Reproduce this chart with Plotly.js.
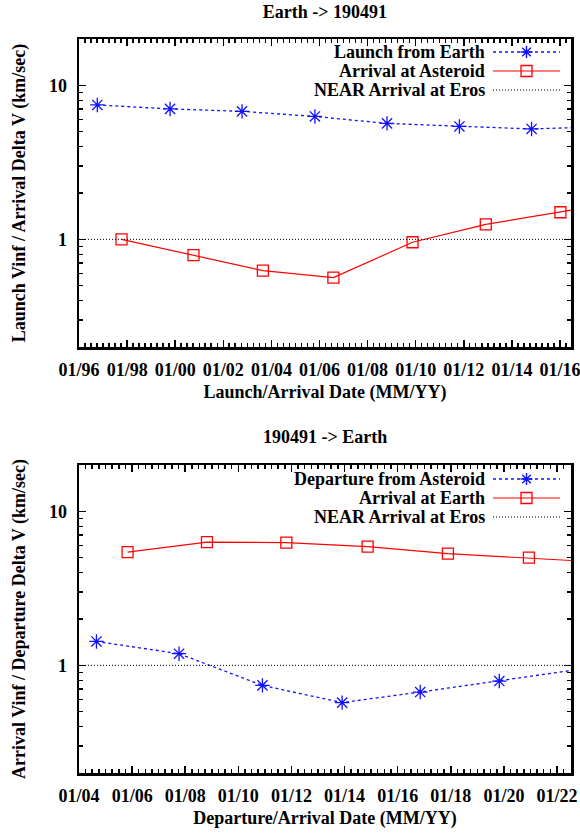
<!DOCTYPE html>
<html><head><meta charset="utf-8">
<script src="https://cdn.plot.ly/plotly-3.0.1.min.js"></script>
<style>html,body{margin:0;padding:0;background:#fff}</style>
</head><body>
<div id="chart" style="width:580px;height:834px"></div>
<script>
// ---- Top panel: Earth -> 190491 ----
const launchDates = ['1996-10-05','1999-10-15','2002-10-12','2005-10-23','2008-10-23','2011-10-27','2014-10-27','2017-10-30'];
const launchVinf = [7.46, 7.03, 6.78, 6.28, 5.66, 5.41, 5.21, 5.40];
const arrivalAstDates = ['1997-10-08','2000-10-05','2003-08-25','2006-07-31','2009-11-14','2012-12-01','2016-01-08','2019-01-01'];
const arrivalAstDv = [1.00, 0.79, 0.626, 0.564, 0.958, 1.25, 1.50, 1.80];

// ---- Bottom panel: 190491 -> Earth ----
const departAstDates = ['2004-08-28','2007-10-08','2010-11-28','2013-11-28','2016-11-06','2019-10-30','2023-03-01'];
const departAstDv = [1.43, 1.19, 0.741, 0.573, 0.671, 0.791, 0.96];
const arrivalEarthDates = ['2005-10-30','2008-10-26','2011-10-23','2014-11-14','2017-11-22','2020-12-10','2023-12-15'];
const arrivalEarthVinf = [5.44, 6.32, 6.27, 5.90, 5.31, 5.00, 4.65];

// NEAR arrival at Eros reference level
const nearLevel = [1, 1];
const topDateRange = ['1996-01-01', '2016-06-17'];
const bottomDateRange = ['2004-01-01', '2022-07-12'];
const yRangeVals = [0.2, 20];

const topNames = ['Launch from Earth', 'Arrival at Asteroid', 'NEAR Arrival at Eros'];
const bottomNames = ['Departure from Asteroid', 'Arrival at Earth', 'NEAR Arrival at Eros'];

const F = {family: '"Liberation Serif", "Times New Roman", serif', size: 18, color: '#000', weight: 'bold'};
const BLUE = '#1010ff', RED = '#ff0000';
const blueLine = {color: BLUE, width: 1.3, dash: 'dot'};
const redLine = {color: RED, width: 1.2, dash: 'solid'};
const nearLine = {color: '#000', width: 1, dash: '1px,2px'};
const starMarker = {symbol: 'asterisk-open', size: 12, color: BLUE, line: {color: BLUE, width: 1.3}};
const squareMarker = {symbol: 'square-open', size: 11, color: RED, line: {color: RED, width: 1.3}};

const traces = [
  {x: launchDates, y: launchVinf, xaxis: 'x', yaxis: 'y', name: topNames[0], mode: 'lines+markers', line: blueLine, marker: starMarker},
  {x: arrivalAstDates, y: arrivalAstDv, xaxis: 'x', yaxis: 'y', name: topNames[1], mode: 'lines+markers', line: redLine, marker: squareMarker},
  {x: topDateRange, y: nearLevel, xaxis: 'x', yaxis: 'y', name: topNames[2], mode: 'lines', line: nearLine},
  {x: departAstDates, y: departAstDv, xaxis: 'x2', yaxis: 'y2', name: bottomNames[0], mode: 'lines+markers', line: blueLine, marker: starMarker},
  {x: arrivalEarthDates, y: arrivalEarthVinf, xaxis: 'x2', yaxis: 'y2', name: bottomNames[1], mode: 'lines+markers', line: redLine, marker: squareMarker},
  {x: bottomDateRange, y: nearLevel, xaxis: 'x2', yaxis: 'y2', name: bottomNames[2], mode: 'lines', line: nearLine}
];

function xAxis(range, tick0, title, anchor){
  return {type: 'date', range: range, tick0: tick0, dtick: 'M24', tickformat: '%m/%y', anchor: anchor,
    ticks: 'inside', ticklen: 7, tickwidth: 1.5, tickcolor: '#000',
    showline: true, linewidth: 2.5, linecolor: '#000', mirror: 'ticks',
    showgrid: false, zeroline: false, tickfont: F, ticklabelstandoff: 5, automargin: false,
    ticklabeloverflow: 'allow',
    minor: {dtick: 'M3', tick0: tick0, ticks: 'inside', ticklen: 4, tickwidth: 1.5, tickcolor: '#000', showgrid: false},
    title: {text: title, font: F, standoff: 7}};
}
function yAxis(domain, title, anchor){
  return {type: 'log', domain: domain, anchor: anchor,
    range: [Math.log10(yRangeVals[0]), Math.log10(yRangeVals[1])], dtick: 1,
    ticks: 'inside', ticklen: 7, tickwidth: 1.5, tickcolor: '#000',
    showline: true, linewidth: 2.5, linecolor: '#000', mirror: 'ticks',
    showgrid: false, zeroline: false, tickfont: F, ticklabelstandoff: 6, automargin: false,
    minor: {dtick: 'D1', ticks: 'inside', ticklen: 4, tickwidth: 1.5, tickcolor: '#000', showgrid: false},
    title: {text: title, font: F, standoff: 19}};
}

// gnuplot-style key: right-aligned text, sample to its right
const PLOT_L = 79, PLOT_R = 571, PLOT_B = 773, PLOT_H = 734, PLOT_W = 492;
const fx = px => (px - PLOT_L) / PLOT_W;
const fy = py => (PLOT_B - py) / PLOT_H;
const annotations = [{text: '190491 -> Earth', font: F, xref: 'paper', yref: 'paper', x: 0.5, y: fy(437),
  xanchor: 'center', yanchor: 'middle', showarrow: false}];
const shapes = [];
function addKey(names, rows){
  const styles = [[blueLine, 'star'], [redLine, 'square'], [nearLine, null]];
  names.forEach((nm, i) => {
    const yy = fy(rows[i]);
    annotations.push({text: nm, font: F, xref: 'paper', yref: 'paper', x: fx(487), y: yy,
      xanchor: 'right', yanchor: 'middle', showarrow: false});
    const ln = styles[i][0];
    shapes.push({type: 'line', xref: 'paper', yref: 'paper', x0: fx(493), x1: fx(560), y0: yy, y1: yy,
      line: {color: ln.color, width: ln.width, dash: ln.dash}});
    const common = {xref: 'paper', yref: 'paper', xsizemode: 'pixel', ysizemode: 'pixel',
      xanchor: fx(526.5), yanchor: yy};
    if (styles[i][1] === 'star') {
      shapes.push(Object.assign({type: 'path', path: 'M-6,0L6,0M0,-6L0,6M-4.3,-4.3L4.3,4.3M-4.3,4.3L4.3,-4.3',
        line: {color: BLUE, width: 1.4}}, common));
    } else if (styles[i][1] === 'square') {
      shapes.push(Object.assign({type: 'rect', x0: -5.5, x1: 5.5, y0: -5.5, y1: 5.5,
        line: {color: RED, width: 1.3}, fillcolor: 'rgba(0,0,0,0)'}, common));
    }
  });
}
addKey(topNames, [52, 71, 90]);
addKey(bottomNames, [479, 498, 517]);

const layout = {
  width: 580, height: 834,
  margin: {l: 79, r: 9, t: 39, b: 61},
  paper_bgcolor: '#fff', plot_bgcolor: '#fff',
  font: F,
  title: {text: 'Earth -> 190491', font: F, xref: 'container', x: 325/580, xanchor: 'center', y: 1 - 12/834, yanchor: 'middle'},
  xaxis: xAxis(topDateRange, '1996-01-01', 'Launch/Arrival Date (MM/YY)', 'y'),
  yaxis: yAxis([fy(347), 1], 'Launch Vinf / Arrival Delta V (km/sec)', 'x'),
  xaxis2: xAxis(bottomDateRange, '2004-01-01', 'Departure/Arrival Date (MM/YY)', 'y2'),
  yaxis2: yAxis([0, fy(465)], 'Arrival Vinf / Departure Delta V (km/sec)', 'x2'),
  annotations: annotations,
  shapes: shapes,
  showlegend: false
};

Plotly.newPlot('chart', traces, layout, {staticPlot: true, displayModeBar: false});
</script>
</body></html>
